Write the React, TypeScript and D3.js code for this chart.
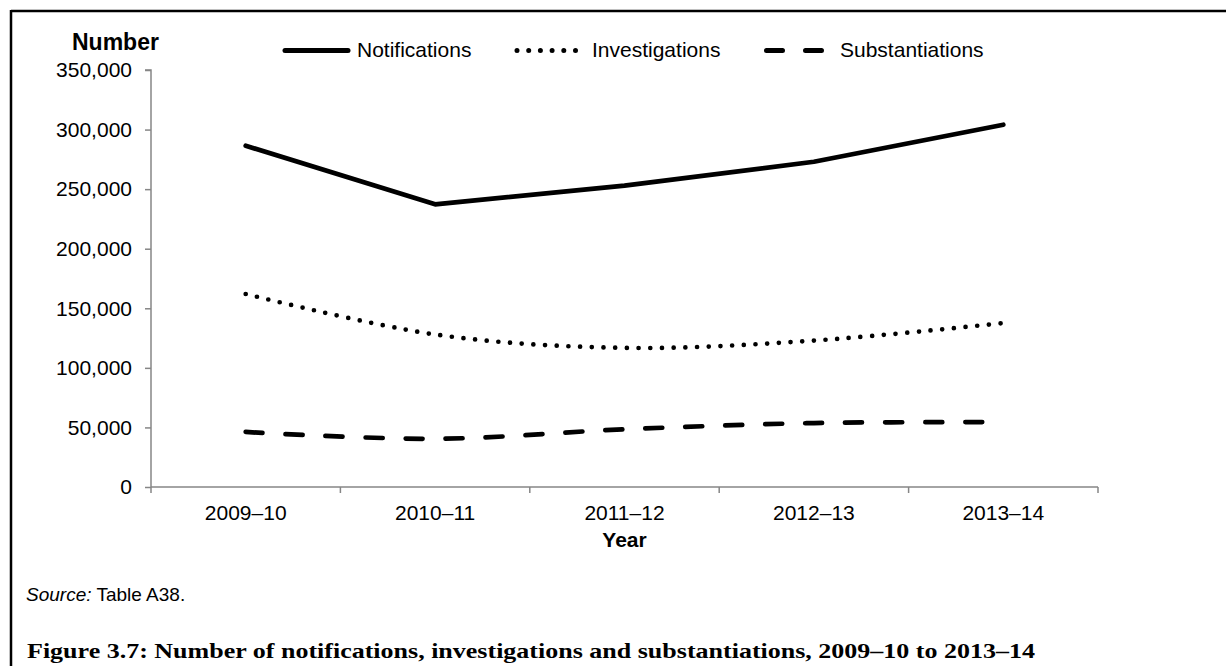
import { useRef, useEffect } from 'react';
import * as d3 from 'd3';

const years = ['2009–10', '2010–11', '2011–12', '2012–13', '2013–14'];
const notifications = [286437, 237273, 252962, 272980, 304097];
const investigations = [162000, 128000, 116800, 122900, 137600];
const substantiations = [46187, 40466, 48420, 53666, 54438];
const yTicks = [0, 50000, 100000, 150000, 200000, 250000, 300000, 350000];

const WIDTH = 1226;
const HEIGHT = 666;
const FONT = '"Liberation Sans", Arial, sans-serif';

export default function App() {
  const svgRef = useRef<SVGSVGElement>(null);

  useEffect(() => {
    if (!svgRef.current) return;
    const svg = d3.select(svgRef.current);
    svg.selectAll('*').remove();

    // frame (only left + top edges fall inside the picture)
    svg.append('line').attr('x1', 11).attr('x2', WIDTH).attr('y1', 11).attr('y2', 11)
      .attr('stroke', '#000').attr('stroke-width', 2.5);
    svg.append('line').attr('x1', 11).attr('x2', 11).attr('y1', 10).attr('y2', HEIGHT)
      .attr('stroke', '#000').attr('stroke-width', 2.5);

    const plot = { left: 151, right: 1098, top: 70, bottom: 487 };

    const x = d3.scaleBand<string>().domain(years).range([plot.left, plot.right]);
    const y = d3.scaleLinear().domain([0, 350000]).range([plot.bottom, plot.top]);
    const cx = (d: string) => (x(d) as number) + x.bandwidth() / 2;

    const axisColor = '#868686';

    // Y axis
    const yAxis = d3.axisLeft(y).tickValues(yTicks).tickSize(6).tickPadding(13)
      .tickFormat((d) => d3.format(',')(d as number));
    const gy = svg.append('g').attr('transform', `translate(${plot.left},0)`).call(yAxis);
    gy.select('.domain').attr('stroke', axisColor).attr('stroke-width', 1.5).attr('d', `M-6,${plot.top}H0V${plot.bottom}`);
    gy.selectAll('.tick line').attr('stroke', axisColor).attr('stroke-width', 1.5);
    gy.selectAll('.tick text').attr('font-family', FONT).attr('font-size', 21).attr('fill', '#000');

    // X axis: ticks sit on the category boundaries
    svg.append('line').attr('x1', plot.left).attr('x2', plot.right)
      .attr('y1', plot.bottom).attr('y2', plot.bottom)
      .attr('stroke', axisColor).attr('stroke-width', 1.5);
    const bounds = [...years.map((d) => x(d) as number), plot.right];
    svg.selectAll('.xtick').data(bounds).enter().append('line')
      .attr('x1', (d) => d).attr('x2', (d) => d)
      .attr('y1', plot.bottom).attr('y2', plot.bottom + 6)
      .attr('stroke', axisColor).attr('stroke-width', 1.5);
    svg.selectAll('.xlabel').data(years).enter().append('text')
      .attr('x', (d) => cx(d)).attr('y', 520)
      .attr('text-anchor', 'middle')
      .attr('font-family', FONT).attr('font-size', 21)
      .text((d) => d);

    // axis titles
    svg.append('text').attr('x', (plot.left + plot.right) / 2).attr('y', 547)
      .attr('text-anchor', 'middle').attr('font-family', FONT).attr('font-size', 21)
      .attr('font-weight', 'bold').text('Year');
    svg.append('text').attr('x', 72).attr('y', 50)
      .attr('font-family', FONT).attr('font-size', 23)
      .attr('font-weight', 'bold').text('Number');

    // series
    const series = [
      { name: 'Notifications', values: notifications, dash: null, curve: d3.curveLinear },
      { name: 'Investigations', values: investigations, dash: '0,11.7', curve: d3.curveCardinal.tension(0) },
      { name: 'Substantiations', values: substantiations, dash: '17,23', curve: d3.curveCardinal.tension(0) },
    ];

    series.forEach((s) => {
      const line = d3.line<number>()
        .x((_, i) => cx(years[i]))
        .y((d) => y(d))
        .curve(s.curve);
      const p = svg.append('path').datum(s.values).attr('d', line)
        .attr('fill', 'none').attr('stroke', '#000').attr('stroke-width', 4.7)
        .attr('stroke-linecap', 'round').attr('stroke-linejoin', 'round');
      if (s.dash) p.attr('stroke-dasharray', s.dash);
    });

    // legend
    const legend = [
      { name: 'Notifications', x1: 285, x2: 348, dash: null, tx: 357 },
      { name: 'Investigations', x1: 517, x2: 578, dash: '0,11.7', tx: 592 },
      { name: 'Substantiations', x1: 766.5, x2: 822.5, dash: '16,23', tx: 840 },
    ];
    legend.forEach((l) => {
      const ln = svg.append('line').attr('x1', l.x1).attr('x2', l.x2).attr('y1', 50.5).attr('y2', 50.5)
        .attr('stroke', '#000').attr('stroke-width', 5).attr('stroke-linecap', 'round');
      if (l.dash) ln.attr('stroke-dasharray', l.dash);
      svg.append('text').attr('x', l.tx).attr('y', 57)
        .attr('font-family', FONT).attr('font-size', 21).text(l.name);
    });

    // source note
    const src = svg.append('text').attr('x', 26).attr('y', 601)
      .attr('font-family', FONT).attr('font-size', 19);
    src.append('tspan').attr('font-style', 'italic').text('Source:');
    src.append('tspan').text(' Table A38.');

    // caption
    svg.append('text').attr('x', 27).attr('y', 658)
      .attr('font-family', '"Liberation Serif", "Times New Roman", serif')
      .attr('font-size', 22).attr('font-weight', 'bold')
      .attr('textLength', 1008).attr('lengthAdjust', 'spacingAndGlyphs')
      .text('Figure 3.7: Number of notifications, investigations and substantiations, 2009–10 to 2013–14');
  }, []);

  return (
    <div style={{ position: 'absolute', left: 0, top: 0, width: WIDTH, height: HEIGHT, background: '#fff' }}>
      <svg ref={svgRef} width={WIDTH} height={HEIGHT} />
    </div>
  );
}
